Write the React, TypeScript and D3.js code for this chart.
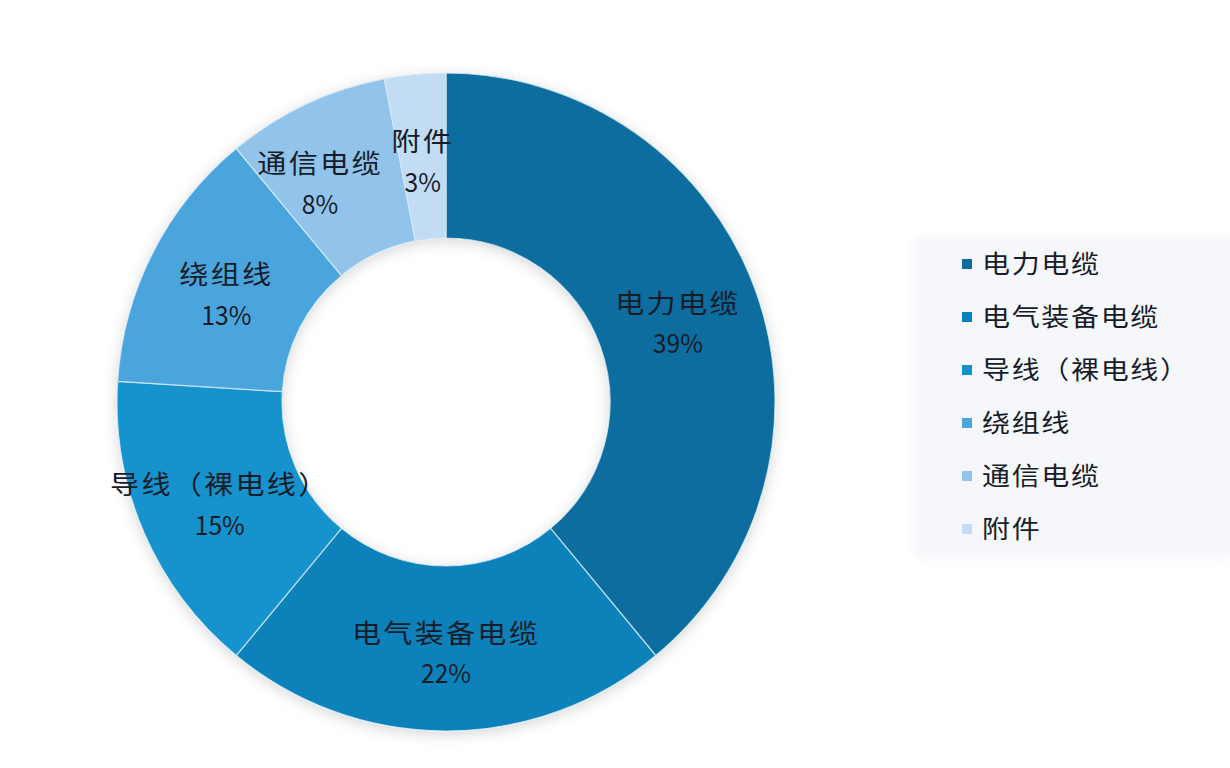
import React from "react";
import * as d3 from "d3";

const categories = ["电力电缆", "电气装备电缆", "导线（裸电线）", "绕组线", "通信电缆", "附件"];
const shares = [39, 22, 15, 13, 8, 3];
const colors = ["#0b6d9e", "#0a81b9", "#1592cd", "#4ca5dd", "#92c3ea", "#c2dcf3"];

const W = 1230;
const H = 768;
const cx = 446;
const cy = 402;
const outerR = 329;
const innerR = 164;

export default function App() {
  const pie = d3.pie<number>().sort(null).value((d) => d);
  const arcs = pie(shares);
  const arcGen = d3.arc<d3.PieArcDatum<number>>().innerRadius(innerR).outerRadius(outerR);
  const labelArc = d3.arc<d3.PieArcDatum<number>>().innerRadius(innerR).outerRadius(outerR);

  const fontFamily = '"Noto Sans CJK SC", "Noto Sans", sans-serif';
  const textColor = "#161c28";
  const sx = 1.12;

  const legendY = d3.scalePoint<number>().domain(d3.range(categories.length)).range([264, 529]);

  return (
    <svg width={W} height={H} style={{ position: "absolute", left: 0, top: 0, background: "#ffffff" }}>
      <defs>
        <filter id="shadow" x="-20%" y="-20%" width="140%" height="140%">
          <feDropShadow dx="0" dy="3" stdDeviation="7" floodColor="#000" floodOpacity="0.16" />
        </filter>
        <filter id="soft" x="-10%" y="-10%" width="120%" height="120%">
          <feGaussianBlur stdDeviation="5" />
        </filter>
      </defs>
      <rect x={0} y={0} width={W} height={H} fill="#ffffff" />
      <rect x={914} y={236} width={320} height={322} fill="#f6f7fa" filter="url(#soft)" />
      <g transform={`translate(${cx},${cy})`}>
        <g filter="url(#shadow)">
          {arcs.map((a, i) => (
            <path key={i} d={arcGen(a) || ""} fill={colors[i]} stroke="#d6ebf8" strokeWidth={1.2} strokeOpacity={0.8} />
          ))}
        </g>
        {arcs.map((a, i) => {
          const [x, y] = labelArc.centroid(a);
          const dx = i === 4 ? -21 : 0;
          return (
            <g key={i} transform={`translate(${x + dx},${y})`}>
              <text
                y={-6}
                textAnchor="middle"
                fontFamily={fontFamily}
                fontSize={26}
                letterSpacing={2}
                fill={textColor}
                transform={`scale(${sx},1)`}
              >
                {categories[i]}
              </text>
              <text
                y={35}
                textAnchor="middle"
                fontFamily={fontFamily}
                fontSize={26}
                fill={textColor}
                transform="scale(0.95,1)"
              >
                {shares[i]}%
              </text>
            </g>
          );
        })}
      </g>
      <g>
        {categories.map((c, i) => {
          const y = legendY(i) as number;
          return (
            <g key={i} transform={`translate(962,${y})`}>
              <rect x={0} y={-5} width={10} height={10} fill={colors[i]} />
              <g transform={`translate(20,0) scale(${sx},1)`}>
                <text
                  x={0}
                  y={9}
                  fontFamily={fontFamily}
                  fontSize={25}
                  letterSpacing={1.5}
                  fill={textColor}
                >
                  {c}
                </text>
              </g>
            </g>
          );
        })}
      </g>
    </svg>
  );
}
